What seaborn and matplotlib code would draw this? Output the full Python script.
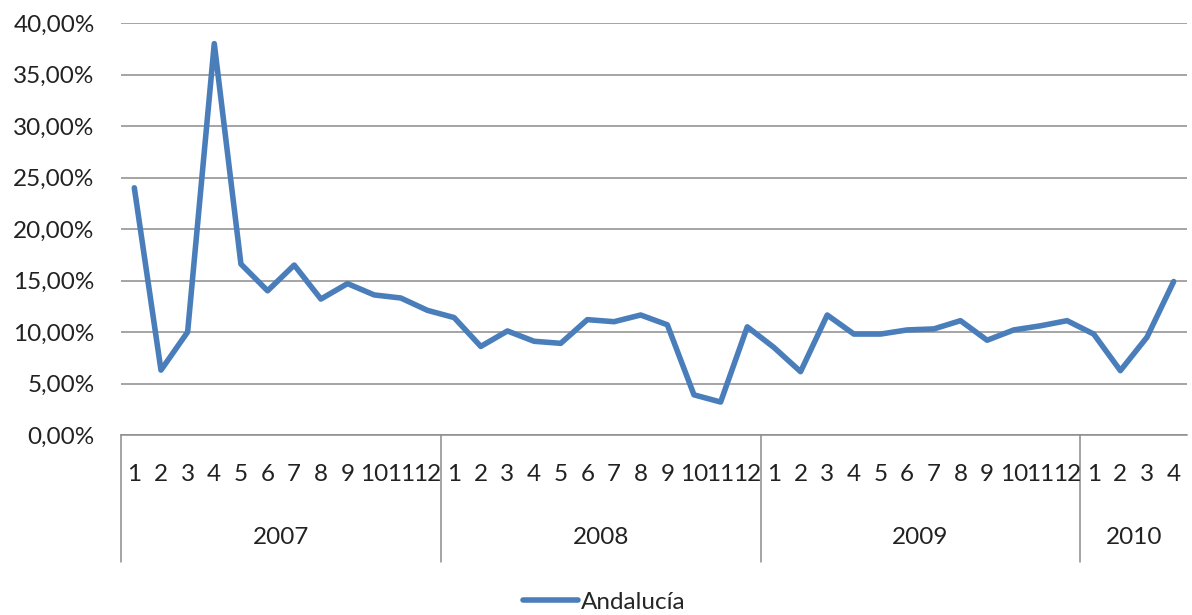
import matplotlib
matplotlib.use('Agg')
import matplotlib.pyplot as plt
import matplotlib.ticker as mticker
import seaborn as sns
import pandas as pd

# %% Data (monthly values, %)
years = ['2007', '2008', '2009', '2010']
months_per_year = [12, 12, 12, 4]
values_2007 = [24.0, 6.3, 10.0, 38.0, 16.6, 14.0, 16.5, 13.2, 14.7, 13.6, 13.3, 12.1]
values_2008 = [11.4, 8.6, 10.1, 9.1, 8.9, 11.2, 11.0, 11.65, 10.7, 3.9, 3.2, 10.5]
values_2009 = [8.5, 6.15, 11.65, 9.8, 9.8, 10.2, 10.3, 11.1, 9.2, 10.2, 10.6, 11.1]
values_2010 = [9.8, 6.25, 9.5, 14.9]
series_name = 'Andalucía'

values = values_2007 + values_2008 + values_2009 + values_2010
month_labels = []
for n in months_per_year:
    month_labels += [str(m) for m in range(1, n + 1)]

df = pd.DataFrame({'pos': range(len(values)), 'value': values, 'serie': series_name})

# %% Plot
sns.set_style('white')
plt.rcParams['font.family'] = ['Lato', 'DejaVu Sans']
fs = 17.5

fig = plt.figure(figsize=(11.92, 6.15), dpi=100)
ax = fig.add_axes([121 / 1192, 1 - 435 / 615, (1187 - 121) / 1192, (435 - 23) / 615])

sns.lineplot(data=df, x='pos', y='value', hue='serie', palette=['#4A7EBB'],
             linewidth=4.0, ax=ax, legend=True)

ax.set_xlim(-0.5, len(values) - 0.5)
ax.set_ylim(0, 40)
ax.yaxis.set_major_locator(mticker.MultipleLocator(5))
ax.yaxis.set_major_formatter(mticker.FuncFormatter(lambda v, p: f'{v:.2f}'.replace('.', ',') + '%'))
ax.grid(axis='y', color='#8C8C8C', linewidth=1.1)
ax.set_axisbelow(True)
for s in ['top', 'right', 'left']:
    ax.spines[s].set_visible(False)
ax.spines['bottom'].set_color('#8C8C8C')
ax.spines['bottom'].set_linewidth(1.1)
ax.tick_params(axis='y', length=0, labelsize=fs, pad=19, labelcolor='#222222')
ax.set_xticks([])
ax.set_xlabel('')
ax.set_ylabel('')

# category axis: months, years and separators
trans = ax.get_xaxis_transform()
for i, lab in enumerate(month_labels):
    ax.text(i, -0.097, lab, transform=trans, ha='center', va='center', fontsize=fs, color='#222222')
start = 0
for yr, n in zip(years, months_per_year):
    ax.plot([start - 0.5, start - 0.5], [0, -0.308], transform=trans, clip_on=False,
            color='#8C8C8C', linewidth=1.1)
    ax.text(start + (n - 1) / 2, -0.248, yr, transform=trans, ha='center', va='center',
            fontsize=fs, color='#222222')
    start += n

# legend
handles, labels = ax.get_legend_handles_labels()
ax.legend(handles, labels, loc='center', bbox_to_anchor=(604 / 1192, 1 - 602 / 615),
          bbox_transform=fig.transFigure, frameon=False, fontsize=fs,
          handlelength=2.3, handletextpad=0.1)

plt.savefig('out.png', dpi=100)
